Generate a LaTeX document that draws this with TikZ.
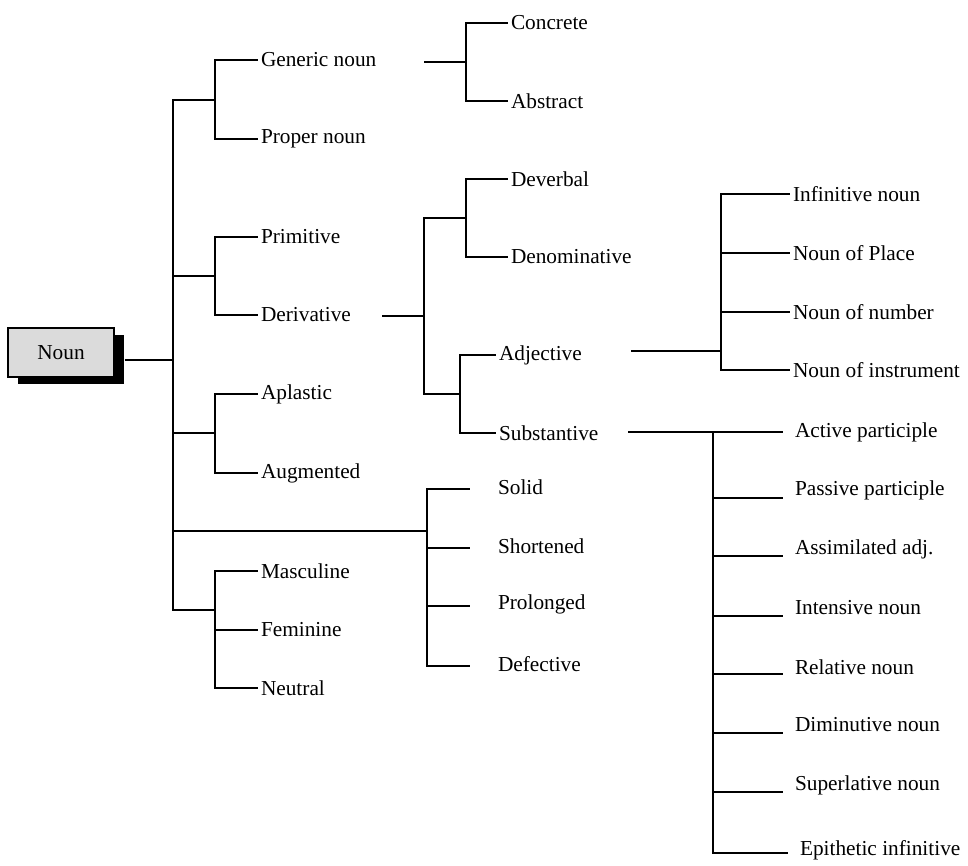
\documentclass[tikz,border=0pt]{standalone}
\usepackage{fontspec}
\setmainfont{Liberation Serif}
\usetikzlibrary{
  shadows,
  positioning
}

\begin{document}
\begin{tikzpicture}[
      x=0.5pt,y=-0.5pt,
      line width=1pt,
      word/.style={
         anchor=west,
         inner sep=1pt,
         font=\fontsize{10.65}{12}\selectfont
      },
      root/.style={
         rectangle,
         draw=black,
         line width=0.7pt,
         fill=black!14,
         minimum width=53pt,
         minimum height=24.5pt,
         font=\fontsize{10.65}{12}\selectfont,
         drop shadow={shadow xshift=5pt,shadow yshift=-3.5pt,fill=black,opacity=1}
      },
      vh path/.style={to path={|- (\tikztotarget)}}
    ]
    \useasboundingbox (0,0) rectangle (968,866);

    \node (n0) [root] at (61,352.5) {Noun};

    % first level
    \coordinate (t0) at (173,360);
    \coordinate (b1) at (215,100);
    \coordinate (b2) at (215,276);
    \coordinate (b3) at (215,433);
    \coordinate (b4) at (427,531);
    \coordinate (b5) at (215,610);
    \draw ([xshift=5pt]n0.east |- t0) -- (t0);
    \draw (t0) to[vh path] (b1);
    \draw (t0) to[vh path] (b2);
    \draw (t0) to[vh path] (b3);
    \draw (t0) to[vh path] (b4);
    \draw (t0) to[vh path] (b5);

    \node (n11) [word] at (258,60) {Generic noun};
    \node (n12) [word] at (258,139) {Proper noun};
    \node (n21) [word] at (258,237) {Primitive};
    \node (n22) [word] at (258,315) {Derivative};
    \node (n31) [word] at (258,394) {Aplastic};
    \node (n32) [word] at (258,473) {Augmented};
    \node (n51) [word] at (258,571) {Masculine};
    \node (n52) [word] at (258,630) {Feminine};
    \node (n53) [word] at (258,688) {Neutral};
    \draw (b1) to[vh path] (n11.west);
    \draw (b1) to[vh path] (n12.west);
    \draw (b2) to[vh path] (n21.west);
    \draw (b2) to[vh path] (n22.west);
    \draw (b3) to[vh path] (n31.west);
    \draw (b3) to[vh path] (n32.west);
    \draw (b5) to[vh path] (n51.west);
    \draw (b5) to[vh path] (n52.west);
    \draw (b5) to[vh path] (n53.west);

    \node (n41) [word] at (495,487) {Solid};
    \node (n42) [word] at (495,546) {Shortened};
    \node (n43) [word] at (495,604) {Prolonged};
    \node (n44) [word] at (495,664) {Defective};
    \coordinate (e41) at (470,489);
    \coordinate (e42) at (470,548);
    \coordinate (e43) at (470,606);
    \coordinate (e44) at (470,666);
    \draw (b4) to[vh path] (e41);
    \draw (b4) to[vh path] (e42);
    \draw (b4) to[vh path] (e43);
    \draw (b4) to[vh path] (e44);

    % generic noun
    \coordinate (s11) at (424,62);
    \coordinate (b11) at (466,62);
    \node (n111) [word] at (508,23) {Concrete};
    \node (n112) [word] at (508,101) {Abstract};
    \draw (s11) -- (b11);
    \draw (b11) to[vh path] (n111.west);
    \draw (b11) to[vh path] (n112.west);

    % derivative
    \coordinate (s22) at (382,316);
    \coordinate (b22) at (424,316);
    \coordinate (b221) at (466,218);
    \coordinate (b222) at (460,394);
    \node (n221) [word] at (508,179) {Deverbal};
    \node (n222) [word] at (508,257) {Denominative};
    \node (n223) [word] at (496,355) {Adjective};
    \node (n224) [word] at (496,433) {Substantive};
    \draw (s22) -- (b22);
    \draw (b22) to[vh path] (b221);
    \draw (b22) to[vh path] (b222);
    \draw (b221) to[vh path] (n221.west);
    \draw (b221) to[vh path] (n222.west);
    \draw (b222) to[vh path] (n223.west);
    \draw (b222) to[vh path] (n224.west);

    % adjective
    \coordinate (s223) at (631,351);
    \coordinate (b223) at (721,351);
    \node (n2231) [word] at (790,194) {Infinitive noun};
    \node (n2232) [word] at (790,253) {Noun of Place};
    \node (n2233) [word] at (790,312) {Noun of number};
    \node (n2234) [word] at (790,370) {Noun of instrument};
    \draw (s223) -- (b223);
    \draw (b223) to[vh path] (n2231.west);
    \draw (b223) to[vh path] (n2232.west);
    \draw (b223) to[vh path] (n2233.west);
    \draw (b223) to[vh path] (n2234.west);

    % substantive
    \coordinate (s224) at (628,432);
    \coordinate (b224) at (713,432);
    \node (n2241) [word] at (792,432) {Active participle};
    \node (n2242) [word] at (792,490) {Passive participle};
    \node (n2243) [word] at (792,549) {Assimilated adj.};
    \node (n2244) [word] at (792,608) {Intensive noun};
    \node (n2245) [word] at (792,667) {Relative noun};
    \node (n2246) [word] at (792,725) {Diminutive noun};
    \node (n2247) [word] at (792,785) {Superlative noun};
    \node (n2248) [word] at (797,850) {Epithetic infinitive};
    \coordinate (e1) at (783,432);
    \coordinate (e2) at (783,498);
    \coordinate (e3) at (783,556);
    \coordinate (e4) at (783,616);
    \coordinate (e5) at (783,674);
    \coordinate (e6) at (783,733);
    \coordinate (e7) at (783,792);
    \coordinate (e8) at (788,853);
    \draw (s224) -- (e1);
    \draw (b224) to[vh path] (e2);
    \draw (b224) to[vh path] (e3);
    \draw (b224) to[vh path] (e4);
    \draw (b224) to[vh path] (e5);
    \draw (b224) to[vh path] (e6);
    \draw (b224) to[vh path] (e7);
    \draw (b224) to[vh path] (e8);
\end{tikzpicture}
\end{document}
